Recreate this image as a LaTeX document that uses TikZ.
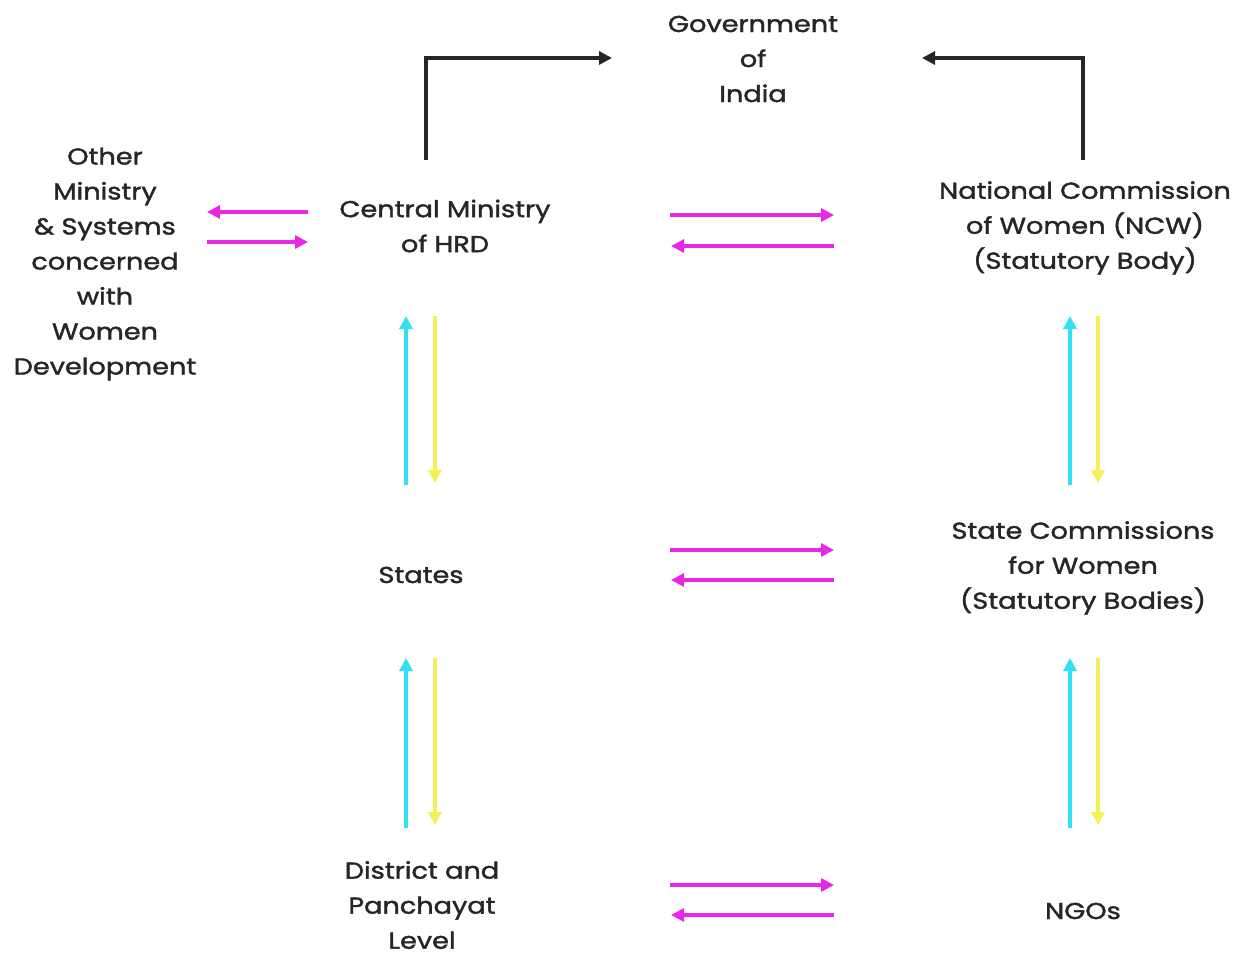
\documentclass[tikz,border=0pt]{standalone}
\usepackage{fontspec}
\setmainfont{Poppins}[FakeStretch=1.18,FakeBold=1.6]
\usetikzlibrary{arrows.meta}
\definecolor{mag}{RGB}{232,40,232}
\definecolor{cyn}{RGB}{50,225,240}
\definecolor{yel}{RGB}{245,240,90}
\tikzset{
  lbl/.style={align=center,inner sep=0pt,text=black!85,font=\fontsize{23}{35}\selectfont},
  conn/.style={line width=3.2pt,-{Triangle[length=13pt,width=13pt]}},
  blk/.style={conn,black!85},
  mg/.style={conn,mag},
  cy/.style={conn,cyn},
  ye/.style={conn,yel},
}
\begin{document}
\begin{tikzpicture}[x=1pt,y=-1pt]
\useasboundingbox (0,0) rectangle (1247,958);
\fill[white] (0,0) rectangle (1247,958);
% nodes
\node[lbl] (goi) at (753,59) {Government\\of\\India};
\node[lbl] (other) at (105,264) {Other\\Ministry\\\& Systems\\concerned\\with\\Women\\Development};
\node[lbl] (hrd) at (445,226) {Central Ministry\\of HRD};
\node[lbl] (ncw) at (1085,228) {National Commission\\of Women (NCW)\\(Statutory Body)};
\node[lbl] (states) at (421,575) {States};
\node[lbl] (scw) at (1083,568) {State Commissions\\for Women\\(Statutory Bodies)};
\node[lbl] (dist) at (422,905) {District and\\Panchayat\\Level};
\node[lbl] (ngo) at (1083,911) {NGOs};
% coordinates
\coordinate (hrdtop) at (426,160);
\coordinate (hrdcorner) at (426,58);
\coordinate (goiL) at (612,58);
\coordinate (ncwtop) at (1083,160);
\coordinate (ncwcorner) at (1083,58);
\coordinate (goiR) at (922,58);
% other <-> hrd
\coordinate (a1) at (308,212); \coordinate (a2) at (207,212);
\coordinate (a3) at (207,242); \coordinate (a4) at (308,242);
% hrd <-> ncw
\coordinate (b1) at (670,215); \coordinate (b2) at (834,215);
\coordinate (b3) at (834,246); \coordinate (b4) at (671,246);
% states <-> scw
\coordinate (c1) at (670,550); \coordinate (c2) at (834,550);
\coordinate (c3) at (834,580); \coordinate (c4) at (671,580);
% dist <-> ngo
\coordinate (d1) at (670,885); \coordinate (d2) at (834,885);
\coordinate (d3) at (834,915); \coordinate (d4) at (671,915);
% verticals left
\coordinate (e1) at (406,485); \coordinate (e2) at (406,316);
\coordinate (e3) at (435,316); \coordinate (e4) at (435,483);
\coordinate (f1) at (406,828); \coordinate (f2) at (406,658);
\coordinate (f3) at (435,658); \coordinate (f4) at (435,825);
% verticals right
\coordinate (g1) at (1070,485); \coordinate (g2) at (1070,316);
\coordinate (g3) at (1098,316); \coordinate (g4) at (1098,483);
\coordinate (h1) at (1070,828); \coordinate (h2) at (1070,658);
\coordinate (h3) at (1098,658); \coordinate (h4) at (1098,825);
% connectors
\draw[blk] (hrdtop) -- (hrdcorner) -- (goiL);
\draw[blk] (ncwtop) -- (ncwcorner) -- (goiR);
\draw[mg] (a1) -- (a2);
\draw[mg] (a3) -- (a4);
\draw[mg] (b1) -- (b2);
\draw[mg] (b3) -- (b4);
\draw[mg] (c1) -- (c2);
\draw[mg] (c3) -- (c4);
\draw[mg] (d1) -- (d2);
\draw[mg] (d3) -- (d4);
\draw[cy] (e1) -- (e2);
\draw[ye] (e3) -- (e4);
\draw[cy] (f1) -- (f2);
\draw[ye] (f3) -- (f4);
\draw[cy] (g1) -- (g2);
\draw[ye] (g3) -- (g4);
\draw[cy] (h1) -- (h2);
\draw[ye] (h3) -- (h4);
\end{tikzpicture}
\end{document}
